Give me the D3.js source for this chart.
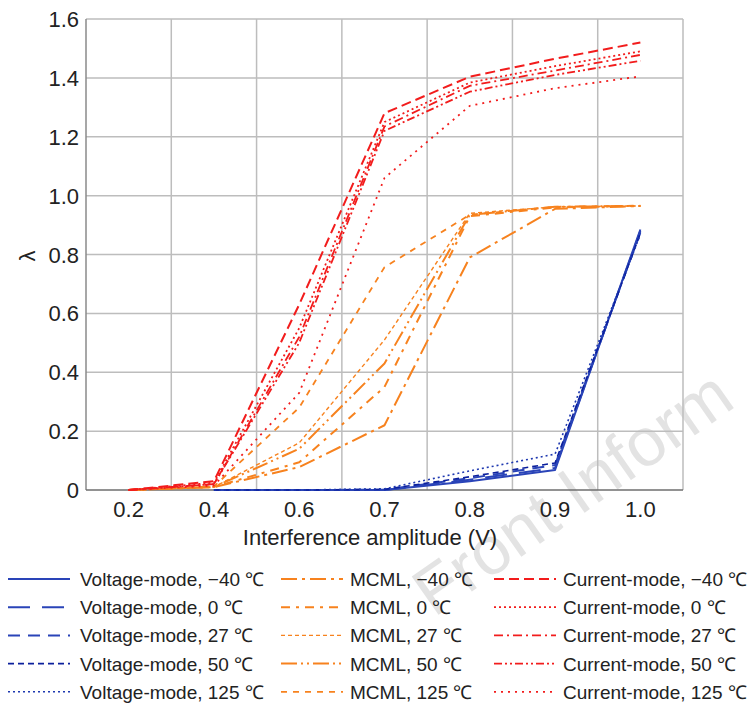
<!doctype html>
<html>
<head>
<meta charset="utf-8">
<script src="https://cdnjs.cloudflare.com/ajax/libs/d3/7.8.5/d3.min.js"></script>
<style>
body { margin: 0; background: #fff; }
svg { display: block; font-family: "Liberation Sans", Arial, sans-serif; }
.grid line { stroke: #bdbdbd; stroke-width: 1.5; }
.tick-label { font-size: 22px; fill: #222; }
.legend text { font-size: 19px; fill: #222; }
.series { fill: none; stroke-linejoin: round; }
</style>
</head>
<body>
<svg id="chart" width="752" height="705"></svg>
<script>
// categories on the x axis (equally spaced)
var amplitudes = ["0.2", "0.4", "0.6", "0.7", "0.8", "0.9", "1.0"];
var yTicks = [0, 0.2, 0.4, 0.6, 0.8, 1.0, 1.2, 1.4, 1.6];
var temps = ["\u221240", "0", "27", "50", "125"];

// voltage-mode
var voltM40 = [null, 0, 0, 0, 0.03, 0.068, 0.885];
var volt0 = [null, 0, 0, 0, 0.035, 0.075, 0.88];
var volt27 = [null, 0, 0, 0.001, 0.04, 0.085, 0.875];
var volt50 = [null, 0, 0, 0.002, 0.045, 0.092, 0.872];
var volt125 = [null, 0, 0, 0.004, 0.065, 0.122, 0.868];

// MCML
var mcmlM40 = [0, 0.01, 0.078, 0.22, 0.79, 0.955, 0.965];
var mcml0 = [0, 0.01, 0.094, 0.35, 0.93, 0.96, 0.965];
var mcml27 = [0, 0.01, 0.16, 0.51, 0.94, 0.962, 0.965];
var mcml50 = [0, 0.01, 0.14, 0.43, 0.935, 0.962, 0.965];
var mcml125 = [0, 0.012, 0.28, 0.757, 0.935, 0.962, 0.966];

// current-mode
var currM40 = [0, 0.03, 0.63, 1.28, 1.404, 1.465, 1.52];
var curr0 = [0, 0.025, 0.55, 1.25, 1.384, 1.44, 1.49];
var curr27 = [0, 0.02, 0.52, 1.235, 1.373, 1.425, 1.478];
var curr50 = [0, 0.02, 0.5, 1.22, 1.353, 1.41, 1.458];
var curr125 = [0, 0.015, 0.33, 1.06, 1.305, 1.365, 1.405];

var groups = [
  { name: "Voltage-mode", values: [voltM40, volt0, volt27, volt50, volt125],
    colors: ["#2a44b8", "#2a44b8", "#2a44b8", "#0b1f9c", "#1e38b0"],
    widths: [2, 2, 2, 1.6, 1.6],
    dashes: [null, "22,12", "12,8", "6,4", "2,3"] },
  { name: "MCML", values: [mcmlM40, mcml0, mcml27, mcml50, mcml125],
    colors: ["#f7821e", "#f7821e", "#f7821e", "#f7821e", "#f7821e"],
    widths: [2, 2, 1.4, 2, 1.8],
    dashes: ["16,5,3,5", "9,6,3,6", "4,3", "16,4,2,4,2,4", "6,6"] },
  { name: "Current-mode", values: [currM40, curr0, curr27, curr50, curr125],
    colors: ["#f21c1c", "#f21c1c", "#f21c1c", "#f21c1c", "#f21c1c"],
    widths: [2, 1.8, 1.8, 1.8, 1.8],
    dashes: ["10,5", "2,3", "9,4,2,4", "8,3,2,3,2,3", "2,5"] }
];

var svg = d3.select("#chart");
var margin = { left: 86, right: 683, top: 19, bottom: 490 };

var x = d3.scaleBand().domain(amplitudes).range([margin.left, margin.right]);
var y = d3.scaleLinear().domain([0, 1.6]).range([margin.bottom, margin.top]);
var cx = function(d) { return x(d) + x.bandwidth() / 2; };

// watermark
svg.append("text")
  .attr("transform", "translate(434,618) rotate(-35)")
  .style("font-size", "68px")
  .style("fill", "#e3e3e3")
  .text("Front Inform");

// grid
var grid = svg.append("g").attr("class", "grid");
grid.selectAll("line.h")
  .data(yTicks.slice(1))
  .enter().append("line")
  .attr("x1", margin.left).attr("x2", margin.right)
  .attr("y1", d => y(d)).attr("y2", d => y(d));
grid.selectAll("line.v")
  .data(amplitudes.slice(1).concat(["end"]))
  .enter().append("line")
  .attr("x1", d => d === "end" ? margin.right : x(d))
  .attr("x2", d => d === "end" ? margin.right : x(d))
  .attr("y1", margin.top).attr("y2", margin.bottom);

// axis lines
svg.append("line")
  .attr("x1", margin.left).attr("x2", margin.left)
  .attr("y1", margin.top).attr("y2", margin.bottom)
  .style("stroke", "#8a8a8a").style("stroke-width", 1.5);
svg.append("line")
  .attr("x1", margin.left).attr("x2", margin.right)
  .attr("y1", margin.bottom).attr("y2", margin.bottom)
  .style("stroke", "#6e6e6e").style("stroke-width", 1.5);

// tick labels
svg.selectAll("text.ytick")
  .data(yTicks)
  .enter().append("text")
  .attr("class", "tick-label")
  .attr("x", 79).attr("y", d => y(d) + 8)
  .style("text-anchor", "end")
  .text(d => d === 0 ? "0" : d3.format(".1f")(d));

svg.selectAll("text.xtick")
  .data(amplitudes)
  .enter().append("text")
  .attr("class", "tick-label")
  .attr("x", d => cx(d)).attr("y", 517)
  .style("text-anchor", "middle")
  .text(d => d);

svg.append("text")
  .attr("class", "tick-label")
  .attr("x", 370).attr("y", 545)
  .style("text-anchor", "middle")
  .text("Interference amplitude (V)");

svg.append("text")
  .attr("class", "tick-label")
  .attr("transform", "translate(35,256) rotate(-90)")
  .style("text-anchor", "middle")
  .text("\u03bb");

// series
var line = d3.line()
  .defined(d => d.v !== null)
  .x(d => cx(d.a))
  .y(d => y(d.v));

var plot = svg.append("g");
groups.forEach(function(g) {
  g.values.forEach(function(vals, i) {
    plot.append("path")
      .attr("class", "series")
      .datum(vals.map((v, j) => ({ a: amplitudes[j], v: v })))
      .attr("d", line)
      .style("stroke", g.colors[i])
      .style("stroke-width", g.widths[i])
      .style("stroke-dasharray", g.dashes[i]);
  });
});

// legend
var legendCols = [{ lx: 8, tx: 80 }, { lx: 281, tx: 350 }, { lx: 494, tx: 563 }];
var legend = svg.append("g").attr("class", "legend");
groups.forEach(function(g, gi) {
  temps.forEach(function(t, i) {
    var ry = 579 + i * 28.2;
    var col = legendCols[gi];
    legend.append("line")
      .attr("x1", col.lx).attr("x2", col.lx + 62)
      .attr("y1", ry).attr("y2", ry)
      .style("stroke", g.colors[i])
      .style("stroke-width", g.widths[i])
      .style("stroke-dasharray", g.dashes[i]);
    legend.append("text")
      .attr("x", col.tx).attr("y", ry + 7)
      .text(g.name + ", " + t + " \u2103");
  });
});
</script>
</body>
</html>
